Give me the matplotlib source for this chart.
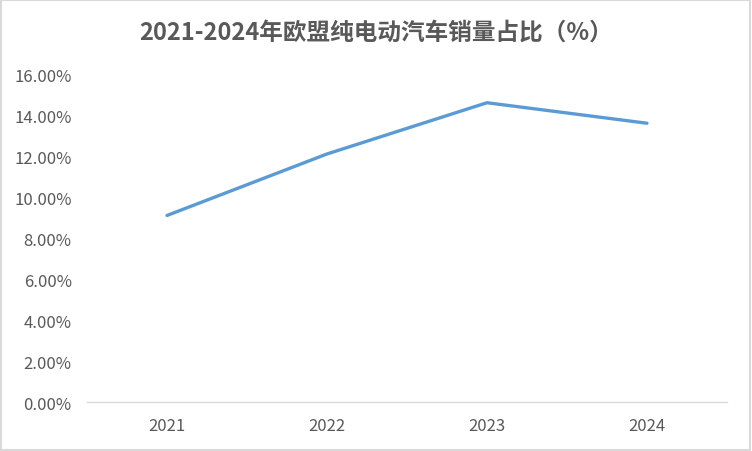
import matplotlib
matplotlib.use("Agg")
import matplotlib.pyplot as plt
from matplotlib.ticker import FuncFormatter

plt.rcParams['font.family'] = ['Noto Sans CJK SC', 'DejaVu Sans']

# 数据
years = ['2021', '2022', '2023', '2024']
share = [9.1, 12.1, 14.6, 13.6]
y_ticks = [0, 2, 4, 6, 8, 10, 12, 14, 16]

title = '2021-2024年欧盟纯电动汽车销量占比（%）'
text_color = '#595959'

fig = plt.figure(figsize=(7.52, 4.52), dpi=100)
ax = fig.add_axes([0.1157, 0.1084, 0.851, 0.7256])

x = list(range(len(years)))
ax.plot(x, share, color='#5b9bd5', linewidth=2.4, solid_capstyle='round')

ax.set_xlim(-0.5, len(years) - 0.5)
ax.set_ylim(0, 16)
ax.set_xticks(x)
ax.set_xticklabels(years)
ax.set_yticks(y_ticks)
ax.yaxis.set_major_formatter(FuncFormatter(lambda v, p: f'{v:.2f}%'))

for side in ['top', 'right', 'left']:
    ax.spines[side].set_visible(False)
ax.spines['bottom'].set_color('#d9d9d9')
ax.spines['bottom'].set_linewidth(1)

ax.tick_params(axis='both', length=0, labelsize=12, colors=text_color)
ax.tick_params(axis='x', pad=11)
ax.tick_params(axis='y', pad=11)

fig.text(0.5, 0.927, title, ha='center', va='center', fontsize=17,
         fontweight='bold', color=text_color)

# 外框
fig.patches.append(plt.Rectangle((0.001, 0.002), 0.997, 0.995, transform=fig.transFigure,
                                 fill=False, edgecolor='#d9d9d9', linewidth=1.5))

fig.savefig('out.png', dpi=100)
